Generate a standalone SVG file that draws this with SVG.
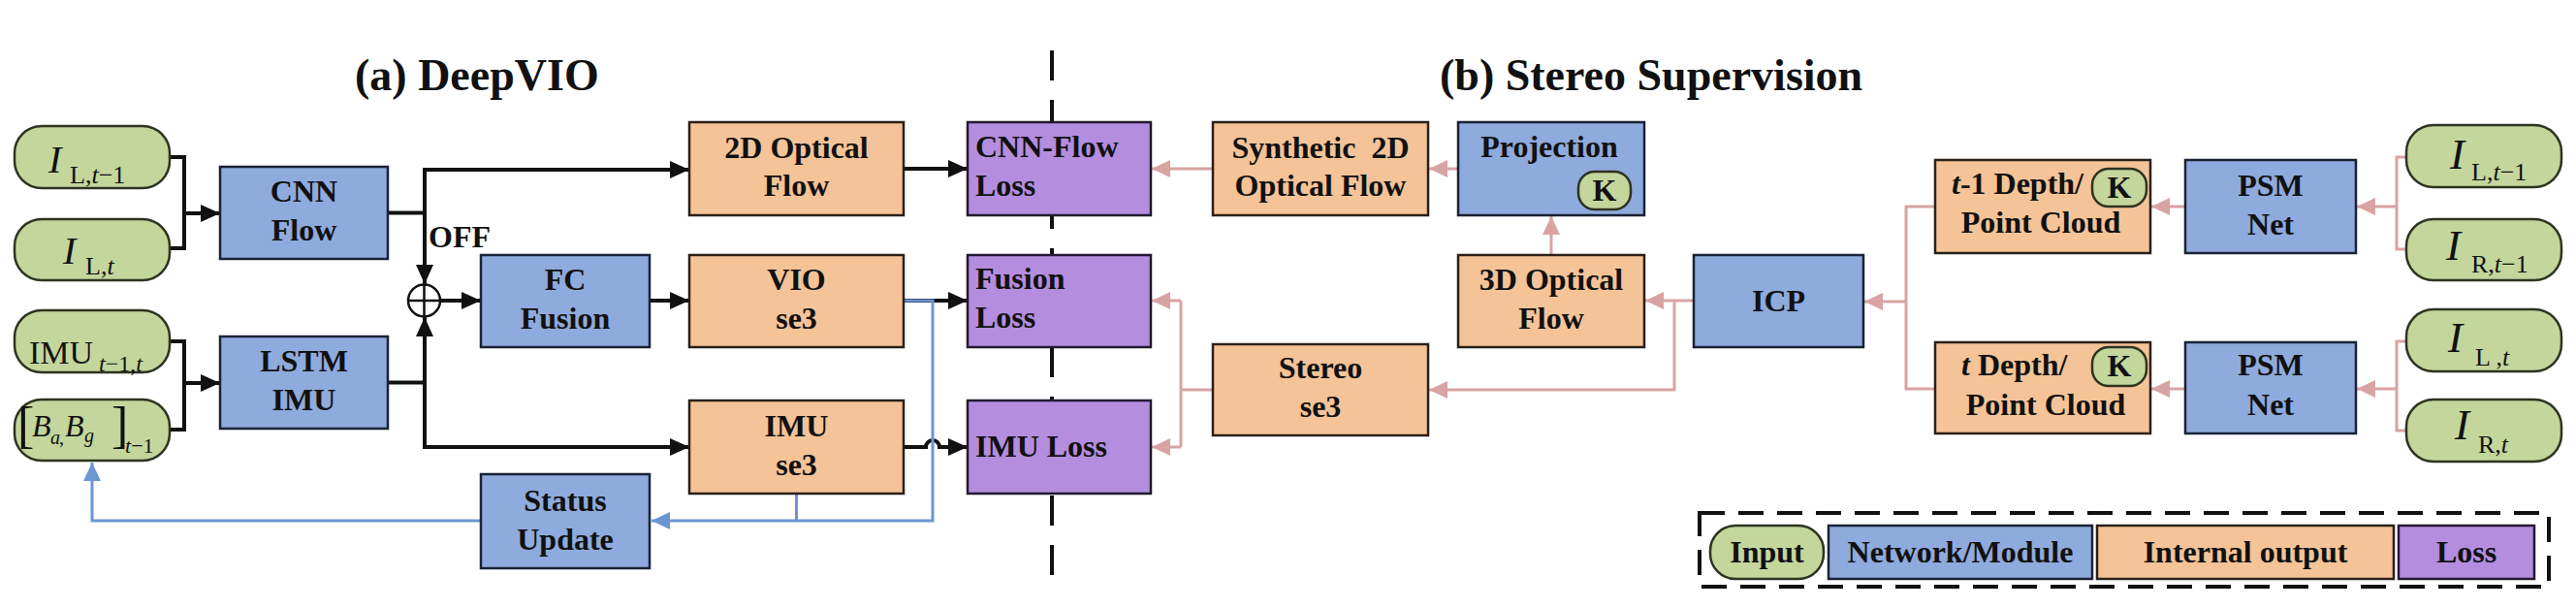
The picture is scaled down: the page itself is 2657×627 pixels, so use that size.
<svg xmlns="http://www.w3.org/2000/svg" width="2657" height="627" viewBox="0 0 2657 627">
<style>
.t{font-family:"Liberation Serif","Times New Roman",serif;font-weight:bold;font-size:32px;fill:#111;text-anchor:middle}
.tl{text-anchor:start}
.ttl{font-family:"Liberation Serif","Times New Roman",serif;font-weight:bold;font-size:46px;fill:#111}
.m{font-family:"Liberation Serif","Times New Roman",serif;fill:#111}
.it{font-style:italic}
.in{fill:#c4d69c;stroke:#2e3320;stroke-width:2.5}
.nw{fill:#8faadc;stroke:#1a2235;stroke-width:2.5}
.io{fill:#f4c397;stroke:#2a2018;stroke-width:2.5}
.ls{fill:#b48ddf;stroke:#231a30;stroke-width:2.5}
.bk{fill:none;stroke:#111;stroke-width:4}
.pk{fill:none;stroke:#d9a3a3;stroke-width:3}
.bl{fill:none;stroke:#6b96d2;stroke-width:3}
</style>
<defs>
<marker id="ab" markerUnits="userSpaceOnUse" markerWidth="22" markerHeight="20" refX="20" refY="10" orient="auto"><path d="M0,1 L20,10 L0,19 z" fill="#111"/></marker>
<marker id="ap" markerUnits="userSpaceOnUse" markerWidth="22" markerHeight="20" refX="19" refY="10" orient="auto"><path d="M0,1 L19,10 L0,19 z" fill="#d9a3a3"/></marker>
<marker id="au" markerUnits="userSpaceOnUse" markerWidth="22" markerHeight="20" refX="19" refY="10" orient="auto"><path d="M0,1 L19,10 L0,19 z" fill="#6b96d2"/></marker>
</defs>

<rect width="2657" height="627" fill="#fff"/>

<text class="ttl" x="366" y="93">(a) DeepVIO</text>
<text class="ttl" x="1485" y="93">(b) Stereo Supervision</text>

<line x1="1085" y1="52" x2="1085" y2="593" stroke="#111" stroke-width="4" stroke-dasharray="31 20"/>

<g id="connectors">
  <path class="bk" d="M175,162 H190 V256 H175"/>
  <path class="bk" d="M190,220 H227" marker-end="url(#ab)"/>
  <path class="bk" d="M175,352 H190 V443 H175"/>
  <path class="bk" d="M190,395 H227" marker-end="url(#ab)"/>
  <path class="bk" d="M400,219.5 H438 V175 H711" marker-end="url(#ab)"/>
  <path class="bk" d="M438,219.5 V293" marker-end="url(#ab)"/>
  <path class="bk" d="M400,394.5 H438 V327" marker-end="url(#ab)"/>
  <path class="bk" d="M438,394.5 V461 H711" marker-end="url(#ab)"/>
  <path class="bk" d="M454,310 H496" marker-end="url(#ab)"/>
  <path class="bk" d="M670,310 H711" marker-end="url(#ab)"/>
  <path class="bk" d="M932,174 H998" marker-end="url(#ab)"/>
  <path class="bk" d="M932,310 H998" marker-end="url(#ab)"/>
  <path class="bk" d="M932,461 H955 A7,7 0 0 1 969,461 H998" marker-end="url(#ab)"/>
  <path class="bl" d="M932,310 H962 V537 H672" marker-end="url(#au)"/>
  <path class="bl" d="M821.5,509 V537"/>
  <path class="bl" d="M496,537 H95 V477" marker-end="url(#au)"/>
  <path class="pk" d="M1251,174 H1188" marker-end="url(#ap)"/>
  <path class="pk" d="M1504,174 H1474" marker-end="url(#ap)"/>
  <path class="pk" d="M1600,263 V223" marker-end="url(#ap)"/>
  <path class="pk" d="M1747,310 H1697" marker-end="url(#ap)"/>
  <path class="pk" d="M1727,310 V402 H1474" marker-end="url(#ap)"/>
  <path class="pk" d="M1251,402 H1218"/>
  <path class="pk" d="M1218,310 V461"/>
  <path class="pk" d="M1218,310 H1188" marker-end="url(#ap)"/>
  <path class="pk" d="M1218,461 H1188" marker-end="url(#ap)"/>
  <path class="pk" d="M1996,213 H1966 V401 H1996"/>
  <path class="pk" d="M1966,311 H1923" marker-end="url(#ap)"/>
  <path class="pk" d="M2254,213 H2219" marker-end="url(#ap)"/>
  <path class="pk" d="M2254,401 H2219" marker-end="url(#ap)"/>
  <path class="pk" d="M2482,162 H2472 V257 H2482"/>
  <path class="pk" d="M2472,213 H2431" marker-end="url(#ap)"/>
  <path class="pk" d="M2482,352 H2472 V444 H2482"/>
  <path class="pk" d="M2472,401 H2431" marker-end="url(#ap)"/>
</g>

<g id="in-il-t1"><rect class="in" x="15" y="130" width="160" height="64" rx="28"/>
<text class="m" font-size="40"><tspan class="it" x="50" y="178">I</tspan><tspan font-size="26" x="72" y="189">L,<tspan class="it">t</tspan>−1</tspan></text></g>
<g id="in-il-t"><rect class="in" x="15" y="226" width="160" height="63" rx="28"/>
<text class="m" font-size="40"><tspan class="it" x="65" y="272">I</tspan><tspan font-size="26" x="88" y="283">L,<tspan class="it">t</tspan></tspan></text></g>
<g id="in-imu"><rect class="in" x="15" y="320" width="160" height="64" rx="28"/>
<text class="m" font-size="34"><tspan x="30" y="375">IMU</tspan><tspan font-size="24" x="102" y="383"><tspan class="it">t</tspan>−1,<tspan class="it">t</tspan></tspan></text></g>
<g id="in-bias"><rect class="in" x="15" y="412" width="160" height="63" rx="28"/>
<text class="m" font-size="52" x="18" y="456">[</text>
<text class="m it" font-size="32" x="33" y="450">B</text>
<text class="m it" font-size="20" x="52" y="458">a</text>
<text class="m" font-size="20" x="61" y="458">,</text>
<text class="m it" font-size="32" x="67" y="450">B</text>
<text class="m it" font-size="20" x="87" y="456">g</text>
<text class="m" font-size="52" x="115" y="456">]</text>
<text class="m" font-size="22" x="129" y="467"><tspan class="it">t</tspan>−1</text></g>

<g id="cnn-flow"><rect class="nw" x="227" y="172" width="173" height="95"/>
<text class="t" x="313.5" y="208">CNN</text><text class="t" x="313.5" y="248">Flow</text></g>
<g id="lstm-imu"><rect class="nw" x="227" y="347" width="173" height="95"/>
<text class="t" x="313.5" y="383">LSTM</text><text class="t" x="313.5" y="423">IMU</text></g>

<g id="oplus"><circle cx="437.5" cy="310" r="16.5" fill="#fff" stroke="#111" stroke-width="2.5"/>
<path d="M421,310 H454 M437.5,293.5 V326.5" stroke="#111" stroke-width="2.5"/>
<text class="t tl" x="442" y="255" font-size="31">OFF</text></g>

<g id="fc-fusion"><rect class="nw" x="496" y="263" width="174" height="95"/>
<text class="t" x="583" y="299">FC</text><text class="t" x="583" y="339">Fusion</text></g>
<g id="status-update"><rect class="nw" x="496" y="489" width="174" height="97"/>
<text class="t" x="583" y="527">Status</text><text class="t" x="583" y="567">Update</text></g>

<g id="of2d"><rect class="io" x="711" y="126" width="221" height="96"/>
<text class="t" x="821.5" y="163">2D Optical</text><text class="t" x="821.5" y="202">Flow</text></g>
<g id="vio-se3"><rect class="io" x="711" y="263" width="221" height="95"/>
<text class="t" x="821.5" y="299">VIO</text><text class="t" x="821.5" y="339">se3</text></g>
<g id="imu-se3"><rect class="io" x="711" y="413" width="221" height="96"/>
<text class="t" x="821.5" y="450">IMU</text><text class="t" x="821.5" y="490">se3</text></g>

<g id="cnn-flow-loss"><rect class="ls" x="998" y="126" width="189" height="96"/>
<text class="t tl" x="1006" y="162">CNN-Flow</text><text class="t tl" x="1006" y="202">Loss</text></g>
<g id="fusion-loss"><rect class="ls" x="998" y="263" width="189" height="95"/>
<text class="t tl" x="1006" y="298">Fusion</text><text class="t tl" x="1006" y="338">Loss</text></g>
<g id="imu-loss"><rect class="ls" x="998" y="413" width="189" height="96"/>
<text class="t tl" x="1006" y="471">IMU Loss</text></g>

<g id="synthetic-2d"><rect class="io" x="1251" y="126" width="222" height="96"/>
<text class="t" x="1362" y="163" xml:space="preserve">Synthetic  2D</text><text class="t" x="1362" y="202">Optical Flow</text></g>
<g id="projection"><rect class="nw" x="1504" y="126" width="192" height="96"/>
<text class="t" x="1598" y="162">Projection</text>
<rect class="in" x="1628" y="177" width="54" height="39" rx="17"/><text class="t" x="1655" y="207" font-size="30">K</text></g>
<g id="of3d"><rect class="io" x="1504" y="263" width="192" height="95"/>
<text class="t" x="1600" y="299">3D Optical</text><text class="t" x="1600" y="339">Flow</text></g>
<g id="stereo-se3"><rect class="io" x="1251" y="355" width="222" height="94"/>
<text class="t" x="1362" y="390">Stereo</text><text class="t" x="1362" y="430">se3</text></g>
<g id="icp"><rect class="nw" x="1747" y="263" width="175" height="95"/>
<text class="t" x="1834.5" y="321">ICP</text></g>

<g id="depth-t1"><rect class="io" x="1996" y="165" width="222" height="96"/>
<text class="t tl" x="2013" y="200"><tspan class="it">t</tspan>-1 Depth/</text><text class="t" x="2105" y="240">Point Cloud</text>
<rect class="in" x="2158" y="174" width="56" height="39" rx="17"/><text class="t" x="2186" y="204" font-size="30">K</text></g>
<g id="depth-t"><rect class="io" x="1996" y="353" width="222" height="94"/>
<text class="t tl" x="2023" y="387"><tspan class="it">t</tspan> Depth/</text><text class="t" x="2110" y="428">Point Cloud</text>
<rect class="in" x="2158" y="358" width="56" height="40" rx="17"/><text class="t" x="2186" y="388" font-size="30">K</text></g>

<g id="psm-t1"><rect class="nw" x="2254" y="165" width="176" height="96"/>
<text class="t" x="2342" y="202">PSM</text><text class="t" x="2342" y="242">Net</text></g>
<g id="psm-t"><rect class="nw" x="2254" y="353" width="176" height="94"/>
<text class="t" x="2342" y="387">PSM</text><text class="t" x="2342" y="428">Net</text></g>

<g id="in-il-t1-r"><rect class="in" x="2482" y="129" width="160" height="64" rx="28"/>
<text class="m" font-size="45"><tspan class="it" x="2527" y="174">I</tspan><tspan font-size="26" x="2549" y="186">L,<tspan class="it">t</tspan>−1</tspan></text></g>
<g id="in-ir-t1-r"><rect class="in" x="2482" y="226" width="160" height="63" rx="28"/>
<text class="m" font-size="45"><tspan class="it" x="2523" y="268">I</tspan><tspan font-size="26" x="2549" y="281">R,<tspan class="it">t</tspan>−1</tspan></text></g>
<g id="in-il-t-r"><rect class="in" x="2482" y="319" width="160" height="64" rx="28"/>
<text class="m" font-size="45"><tspan class="it" x="2525" y="363">I</tspan><tspan font-size="26" x="2553" y="377">L ,<tspan class="it">t</tspan></tspan></text></g>
<g id="in-ir-t-r"><rect class="in" x="2482" y="412" width="160" height="64" rx="28"/>
<text class="m" font-size="45"><tspan class="it" x="2532" y="453">I</tspan><tspan font-size="26" x="2556" y="467">R,<tspan class="it">t</tspan></tspan></text></g>

<g id="legend">
<rect x="1753" y="529" width="876" height="76" fill="none" stroke="#111" stroke-width="4" stroke-dasharray="26 14"/>
<rect class="in" x="1764" y="542" width="117" height="55" rx="26"/><text class="t" x="1822.5" y="580">Input</text>
<rect class="nw" x="1886" y="542" width="272" height="55"/><text class="t" x="2022" y="580">Network/Module</text>
<rect class="io" x="2163" y="542" width="306" height="55"/><text class="t" x="2316" y="580">Internal output</text>
<rect class="ls" x="2474" y="542" width="140" height="55"/><text class="t" x="2544" y="580">Loss</text>
</g>
</svg>
